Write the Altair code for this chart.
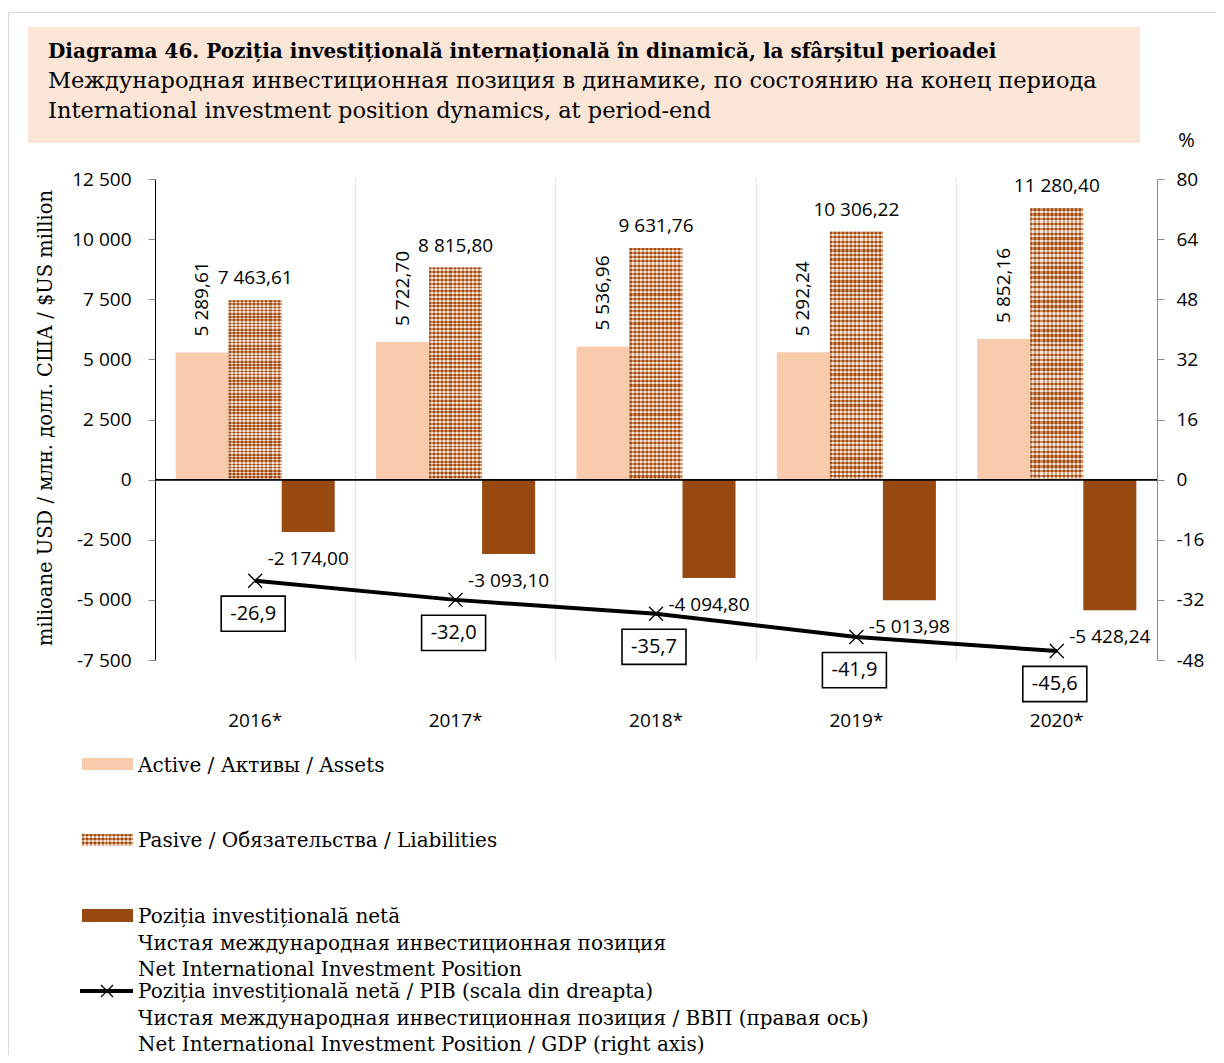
import altair as alt
import pandas as pd

# ---------------- data ----------------
years = ["2016*", "2017*", "2018*", "2019*", "2020*"]
assets = [5289.61, 5722.70, 5536.96, 5292.24, 5852.16]
liabilities = [7463.61, 8815.80, 9631.76, 10306.22, 11280.40]
net_position = [-2174.00, -3093.10, -4094.80, -5013.98, -5428.24]
niip_gdp = [-26.9, -32.0, -35.7, -41.9, -45.6]
series_names = ["Assets", "Liabilities", "Net"]

title_line1 = "Diagrama 46. Poziția investițională internațională în dinamică, la sfârșitul perioadei"
title_lines23 = [
    "Международная инвестиционная позиция в динамике, по состоянию на конец периода",
    "International investment position dynamics, at period-end",
]
y_title = "milioane USD / млн. долл. США / $US million"
legend_assets = "Active / Активы / Assets"
legend_liab = "Pasive / Обязательства / Liabilities"
legend_net = [
    "Poziția investițională netă",
    "Чистая международная инвестиционная позиция",
    "Net International Investment Position",
]
legend_line = [
    "Poziția investițională netă / PIB (scala din dreapta)",
    "Чистая международная инвестиционная позиция / ВВП (правая ось)",
    "Net International Investment Position / GDP (right axis)",
]

bars_df = pd.DataFrame({
    "year": years * 3,
    "series": [s for s in series_names for _ in years],
    "value": assets + liabilities + net_position,
})
pct_df = pd.DataFrame({"year": years, "pct": niip_gdp})
one = pd.DataFrame({"k": [0]})

# ---------------- styles ----------------
W, H = 1002, 481
SANS = "Open Sans"
SERIF = "DejaVu Serif"
PEACH = "#f8cbad"
BROWN = "#984910"
PAT_DARK = "#a04a12"
PAT_LIGHT = "#f1c9aa"
HEADER = "#fbe5d6"
GRAY = "#8c8c8c"


def stripes(n, c1, c2, along_x):
    stops = []
    for i in range(n):
        a, m, b = i / n, (i + 0.5) / n, (i + 1) / n
        stops += [
            alt.GradientStop(offset=a, color=c1),
            alt.GradientStop(offset=m, color=c1),
            alt.GradientStop(offset=m, color=c2),
            alt.GradientStop(offset=b, color=c2),
        ]
    if along_x:
        return alt.LinearGradient(gradient="linear", stops=stops, x1=0, x2=1, y1=0, y2=0)
    return alt.LinearGradient(gradient="linear", stops=stops, x1=0, x2=0, y1=0, y2=1)


x_enc = alt.X(
    "year:N",
    scale=alt.Scale(domain=years, paddingInner=0, paddingOuter=0),
    axis=alt.Axis(
        title=None, domain=False, ticks=False, labelAngle=0, labelPadding=51,
        labelFont=SANS, labelFontSize=19, labelColor="black",
        grid=True, gridDash=[2, 2], gridColor="#c4c4c4", gridWidth=1, bandPosition=0,
    ),
)
xo_enc = alt.XOffset(
    "series:N", scale=alt.Scale(domain=series_names, paddingInner=0, paddingOuter=0.39)
)
yl = alt.Y(
    "value:Q",
    scale=alt.Scale(domain=[-7500, 12500], nice=False),
    axis=alt.Axis(
        orient="left", values=list(range(-7500, 12501, 2500)), format=",.0f",
        title=y_title, titleFont=SERIF, titleFontSize=19.5, titleFontWeight="normal",
        titleColor="black", titleX=-110, titleY=H / 2 - 2, titleAngle=270,
        titleAlign="center", titleBaseline="middle",
        labelFont=SANS, labelFontSize=19, labelColor="black", labelPadding=17,
        tickSize=7, tickColor=GRAY, domainColor="black", grid=False,
    ),
)
yr = alt.Y(
    "pct:Q",
    scale=alt.Scale(domain=[-48, 80], nice=False),
    axis=alt.Axis(
        orient="right", values=list(range(-48, 81, 16)), format=".0f",
        title="%", titleAngle=0, titleX=29, titleY=-39, titleFont=SANS,
        titleFontSize=20, titleFontWeight="normal", titleColor="black",
        titleAlign="center", titleBaseline="middle",
        labelFont=SANS, labelFontSize=19, labelColor="black", labelPadding=12,
        tickSize=7, tickColor=GRAY, domainColor=GRAY, grid=False,
    ),
)

base = alt.Chart(bars_df)
f_assets = alt.datum.series == "Assets"
f_liab = alt.datum.series == "Liabilities"
f_net = alt.datum.series == "Net"

assets_bar = base.transform_filter(f_assets).mark_bar(color=PEACH).encode(x=x_enc, xOffset=xo_enc, y=yl)
liab_bar = base.transform_filter(f_liab).mark_bar(
    fill=stripes(13, PAT_DARK, PAT_LIGHT, True), strokeWidth=0
).encode(x=x_enc, xOffset=xo_enc, y=yl)
liab_over = base.transform_filter(f_liab).mark_bar(
    fill=stripes(56, PAT_DARK, "#ffffff", False), opacity=0.5, strokeWidth=0
).encode(x=x_enc, xOffset=xo_enc, y=yl)
net_bar = base.transform_filter(f_net).mark_bar(color=BROWN).encode(x=x_enc, xOffset=xo_enc, y=yl)
zero_rule = base.transform_filter(f_assets).transform_calculate(value="0").mark_rule(
    color="black", strokeWidth=1.2
).encode(y=yl)

txt = dict(font=SANS, fontSize=19, color="black")
assets_lbl = base.transform_filter(f_assets).mark_text(
    angle=270, align="left", baseline="middle", dx=16, **txt
).encode(x=x_enc, xOffset=xo_enc, y=yl, text=alt.Text("value:Q", format=",.2f"))
liab_lbl = base.transform_filter(f_liab).mark_text(
    align="center", baseline="alphabetic", dy=-16, **txt
).encode(x=x_enc, xOffset=xo_enc, y=yl, text=alt.Text("value:Q", format=",.2f"))
net_lbl = base.transform_filter(f_net).mark_text(
    align="center", baseline="top", dy=18, **txt
).encode(x=x_enc, xOffset=xo_enc, y=yl, text=alt.Text("value:Q", format=",.2f"))

left = alt.layer(assets_bar, liab_bar, liab_over, net_bar, zero_rule, assets_lbl, liab_lbl, net_lbl)

pbase = alt.Chart(pct_df)
X_PATH = "M-1,-1L1,1M1,-1L-1,1"
BOX_PATH = "M-1,-0.55L1,-0.55L1,0.55L-1,0.55Z"
line = pbase.mark_line(color="black", strokeWidth=4).encode(x=x_enc, y=yr)
markers = pbase.mark_point(
    shape=X_PATH, size=196, filled=False, stroke="black", strokeWidth=1.3, opacity=1
).encode(x=x_enc, y=yr)
boxes = pbase.mark_point(
    shape=BOX_PATH, size=64 * 64, filled=True, fill="white", stroke="black",
    strokeWidth=1.6, opacity=1, yOffset=33, xOffset=-2,
).encode(x=x_enc, y=yr)
box_txt = pbase.mark_text(
    font=SANS, fontSize=20, color="black", align="center", baseline="middle",
    yOffset=33, xOffset=-2,
).encode(x=x_enc, y=yr, text=alt.Text("pct:Q", format=".1f"))

right = alt.layer(line, markers, boxes, box_txt)

# ---------------- header, frame, legend ----------------
deco = alt.Chart(one)
border = deco.mark_rect(fillOpacity=0, stroke="#d9d9d9", strokeWidth=1).encode(
    x=alt.value(-146.5), x2=alt.value(1300), y=alt.value(-166.5), y2=alt.value(1000)
)
header = deco.mark_rect(color=HEADER).encode(
    x=alt.value(-127), x2=alt.value(985), y=alt.value(-152), y2=alt.value(-36)
)
head1 = deco.mark_text(
    text=title_line1, font=SERIF, fontSize=20, fontWeight="bold", color="black",
    align="left", baseline="alphabetic",
).encode(x=alt.value(-107), y=alt.value(-121))
head23 = deco.mark_text(
    text=title_lines23, font=SERIF, fontSize=22.5, color="black", lineHeight=30,
    align="left", baseline="alphabetic",
).encode(x=alt.value(-107), y=alt.value(-91))

LX1, LX2, LTX = -73, -22, -17
leg_fs = 20
sw1 = deco.mark_rect(color=PEACH).encode(x=alt.value(LX1), x2=alt.value(LX2), y=alt.value(579), y2=alt.value(591))
sw2a = deco.mark_rect(fill=stripes(13, PAT_DARK, PAT_LIGHT, True)).encode(
    x=alt.value(LX1), x2=alt.value(LX2), y=alt.value(655), y2=alt.value(667))
sw2b = deco.mark_rect(fill=stripes(3, PAT_DARK, "#ffffff", False), opacity=0.5).encode(
    x=alt.value(LX1), x2=alt.value(LX2), y=alt.value(655), y2=alt.value(667))
sw3 = deco.mark_rect(color=BROWN).encode(x=alt.value(LX1), x2=alt.value(LX2), y=alt.value(730), y2=alt.value(743))
sw4 = deco.mark_rule(color="black", strokeWidth=4).encode(
    x=alt.value(-75), x2=alt.value(LX2), y=alt.value(812), y2=alt.value(812))
sw4m = deco.mark_point(
    shape=X_PATH, size=144, filled=False, stroke="black", strokeWidth=1.3, opacity=1
).encode(x=alt.value(-48), y=alt.value(812))

ltxt = dict(font=SERIF, fontSize=leg_fs, color="black", align="left", baseline="alphabetic", lineHeight=26.5)
lt1 = deco.mark_text(text=legend_assets, **ltxt).encode(x=alt.value(LTX), y=alt.value(593))
lt2 = deco.mark_text(text=legend_liab, **ltxt).encode(x=alt.value(LTX), y=alt.value(668))
lt3 = deco.mark_text(text=legend_net, **ltxt).encode(x=alt.value(LTX), y=alt.value(744))
lt4 = deco.mark_text(text=legend_line, **ltxt).encode(x=alt.value(LTX), y=alt.value(819))

chart = alt.layer(
    left, right,
    border, header, head1, head23,
    sw1, sw2a, sw2b, sw3, sw4, sw4m, lt1, lt2, lt3, lt4,
).resolve_scale(y="independent").properties(
    width=W, height=H,
    autosize=alt.AutoSizeParams(type="none"),
    padding={"left": 147, "top": 171, "right": 59, "bottom": 395},
).configure(
    locale={"number": {"decimal": ",", "thousands": " ", "grouping": [3],
                       "currency": ["", ""], "minus": "-"}}
).configure_view(strokeWidth=0)

chart.save("out.html", embed_options={"renderer": "svg", "actions": False})
